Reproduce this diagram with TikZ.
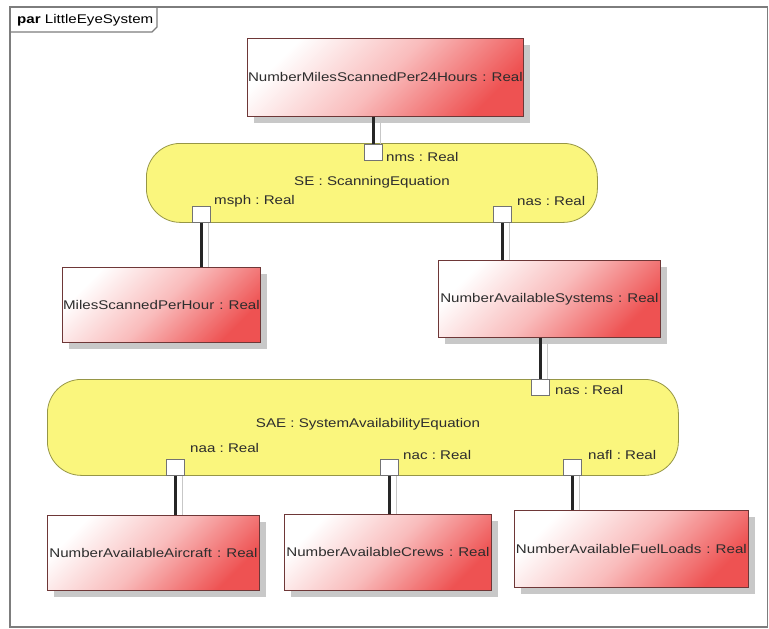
\documentclass[tikz,border=0pt]{standalone}
\usepackage{fontspec}
\setmainfont{Liberation Sans}
\usepackage{graphicx}
\usetikzlibrary{shadows}
\definecolor{boxred}{RGB}{238,82,82}
\definecolor{boxpink}{RGB}{249,188,188}
\definecolor{boxborder}{RGB}{110,55,55}
\definecolor{eqfill}{RGB}{250,246,125}
\definecolor{eqborder}{RGB}{150,150,70}
\definecolor{txt}{RGB}{45,45,45}
\definecolor{framegray}{RGB}{125,125,125}
\definecolor{shadowgray}{RGB}{200,200,200}
\newcommand{\wtx}[1]{\scalebox{1.2}[1]{#1}}
\frenchspacing
\begin{document}
\begin{tikzpicture}[x=1pt,y=-1pt,
  font=\fontsize{12.6}{14}\selectfont, text=txt,
  valbox/.style={rectangle, draw=boxborder, line width=0.8pt,
    top color=white, bottom color=boxred, middle color=boxpink, shading angle=45,
    inner sep=0pt, anchor=north west, align=center,
    drop shadow={shadow xshift=7pt, shadow yshift=-7pt, fill=shadowgray, opacity=1}},
  eqshape/.style={rectangle, rounded corners=34pt, draw=eqborder, fill=eqfill,
    line width=0.8pt, inner sep=0pt, anchor=north west},
  port/.style={rectangle, draw=black!55, fill=white, line width=0.8pt,
    minimum width=18pt, minimum height=16pt, inner sep=0pt, anchor=north west},
  lbl/.style={anchor=west, inner sep=0pt},
  conn/.style={line width=2.2pt, draw=black!85},
  connsh/.style={line width=1.4pt, draw=black!22, transform canvas={xshift=7pt}}
]
\useasboundingbox (0,0) rectangle (769,629);
% frame
\draw[framegray, line width=1.3pt] (10,7) rectangle (767.5,627);
\draw[framegray, line width=1.1pt] (10,32) -- (152,32) -- (157,27) -- (157,7);
\node[anchor=west, inner sep=0pt, text=black] (title) at (17,20) {\wtx{\textbf{par} LittleEyeSystem}};

% equation blocks
\node[eqshape, minimum width=451pt, minimum height=79pt] (se) at (146,143) {};
\node[inner sep=0pt] (setxt) at (372,182) {\wtx{SE : ScanningEquation}};
\node[eqshape, minimum width=631pt, minimum height=96pt] (sae) at (47,379) {};
\node[inner sep=0pt] (saetxt) at (368,424) {\wtx{SAE : SystemAvailabilityEquation}};

% value boxes
\node[valbox, text width=276pt, minimum height=78pt] (b1) at (247,38) {\wtx{NumberMilesScannedPer24Hours : Real}};
\node[valbox, text width=198pt, minimum height=75pt] (b2) at (62,267) {\wtx{MilesScannedPerHour : Real}};
\node[valbox, text width=222pt, minimum height=77pt] (b3) at (438,260) {\wtx{NumberAvailableSystems : Real}};
\node[valbox, text width=212pt, minimum height=75pt] (b4) at (47,515) {\wtx{NumberAvailableAircraft : Real}};
\node[valbox, text width=207pt, minimum height=76pt] (b5) at (284,514) {\wtx{NumberAvailableCrews : Real}};
\node[valbox, text width=234pt, minimum height=77pt] (b6) at (514,510) {\wtx{NumberAvailableFuelLoads : Real}};

% ports
\node[port] (nms) at (364,144) {};
\node[lbl] (nmsl) at (386,157) {\wtx{nms : Real}};
\node[port] (msph) at (192,206) {};
\node[lbl] (msphl) at (214,201) {\wtx{msph : Real}};
\node[port] (nas1) at (493,206) {};
\node[lbl] (nas1l) at (517,201) {\wtx{nas : Real}};
\node[port] (nas2) at (531,379) {};
\node[lbl] (nas2l) at (555,390) {\wtx{nas : Real}};
\node[port] (naa) at (166,459) {};
\node[lbl] (naal) at (190,448) {\wtx{naa : Real}};
\node[port] (nac) at (380,459) {};
\node[lbl] (nacl) at (403,455) {\wtx{nac : Real}};
\node[port] (nafl) at (563,459) {};
\node[lbl] (nafll) at (588,455) {\wtx{nafl : Real}};

% connector shadows
\draw[connsh] (b1.south -| nms.north) -- (nms.north);
\draw[connsh] (msph.south) -- (msph.south |- b2.north);
\draw[connsh] (nas1.south) -- (nas1.south |- b3.north);
\draw[connsh] (b3.south -| nas2.north) -- (nas2.north);
\draw[connsh] (naa.south) -- (naa.south |- b4.north);
\draw[connsh] (nac.south) -- (nac.south |- b5.north);
\draw[connsh] (nafl.south) -- (nafl.south |- b6.north);
% connectors
\draw[conn] (b1.south -| nms.north) -- (nms.north);
\draw[conn] (msph.south) -- (msph.south |- b2.north);
\draw[conn] (nas1.south) -- (nas1.south |- b3.north);
\draw[conn] (b3.south -| nas2.north) -- (nas2.north);
\draw[conn] (naa.south) -- (naa.south |- b4.north);
\draw[conn] (nac.south) -- (nac.south |- b5.north);
\draw[conn] (nafl.south) -- (nafl.south |- b6.north);
\end{tikzpicture}
\end{document}
